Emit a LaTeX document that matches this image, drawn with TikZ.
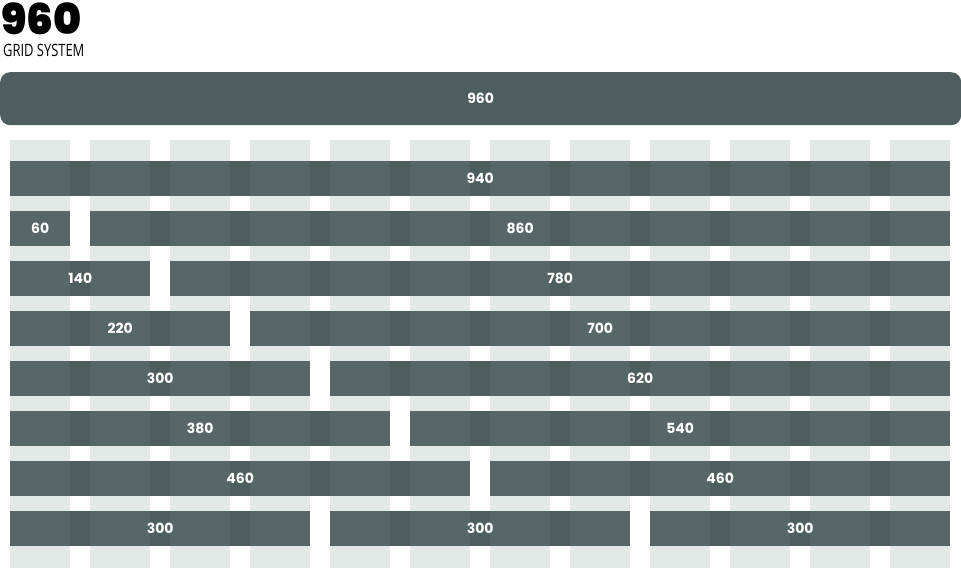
\documentclass[tikz,border=0pt]{standalone}
\usepackage{fontspec}
\setmainfont{Poppins}
\newfontfamily\titlefont{Poppins Black}
\newfontfamily\subfont{Open Sans}[FakeStretch=0.76]
\usetikzlibrary{positioning}
\definecolor{barcolor}{RGB}{78,94,94}
\definecolor{colcolor}{RGB}{225,232,230}
\tikzset{
  grid col/.style={
    fill=colcolor,
    draw=none
  },
  col shade/.style={
    fill=white,
    fill opacity=0.055,
    draw=none
  },
  grid bar/.style={
    fill=barcolor,
    draw=none,
    anchor=north west,
    minimum height=35,
    inner sep=0pt,
    text=white,
    font=\fontsize{14}{14}\selectfont\bfseries
  }
}

\begin{document}
\begin{tikzpicture}[x=1pt,y=-1pt]
  \useasboundingbox (0,0) rectangle (961,569);

  % heading
  \node[anchor=base west, inner sep=0pt, text depth=0pt, font=\titlefont\fontsize{42.5}{42.5}\selectfont] (title) at (1,35) {960};
  \node[anchor=base west, inner sep=0pt, text height=12pt, font=\subfont\fontsize{17}{17}\selectfont] (subtitle) at (3,57) {GRID SYSTEM};

  % full width
  \node[grid bar, rounded corners=10, minimum width=961, minimum height=53] (full) at (0,72) {960};

  % columns
  \foreach \c in {0,...,11}
    \fill[grid col] ({10+80*\c},140) rectangle ({70+80*\c},568);

  % rows
  \foreach \r/\c/\n/\lab [count=\i] in {
      1/0/12/940,
      2/0/1/60, 2/1/11/860,
      3/0/2/140, 3/2/10/780,
      4/0/3/220, 4/3/9/700,
      5/0/4/300, 5/4/8/620,
      6/0/5/380, 6/5/7/540,
      7/0/6/460, 7/6/6/460,
      8/0/4/300, 8/4/4/300, 8/8/4/300}
    \node[grid bar, minimum width={80*\n-20}] (bar\i) at ({10+80*\c},{111+50*\r}) {\lab};

  % light over the bars
  \foreach \c in {0,...,11}
    \fill[col shade] ({10+80*\c},161) rectangle ({70+80*\c},546);

\end{tikzpicture}
\end{document}
